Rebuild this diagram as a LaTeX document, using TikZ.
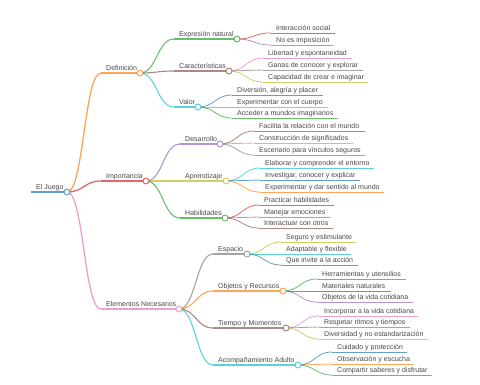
\documentclass[tikz,border=0pt]{standalone}
\usepackage{fontspec}
\setmainfont{Liberation Sans}
\usetikzlibrary{calc}
\definecolor{cBlue}{HTML}{1F77B4}
\definecolor{cOrange}{HTML}{FF7F0E}
\definecolor{cGreen}{HTML}{2CA02C}
\definecolor{cRed}{HTML}{D62728}
\definecolor{cPurple}{HTML}{9467BD}
\definecolor{cBrown}{HTML}{8C564B}
\definecolor{cPink}{HTML}{E377C2}
\definecolor{cGray}{HTML}{7F7F7F}
\definecolor{cOlive}{HTML}{BCBD22}
\definecolor{cCyan}{HTML}{17BECF}
\tikzset{
  lbl/.style={anchor=base west, inner sep=0pt, font=\fontsize{7}{8}\selectfont, text=black!72},
  circ/.style={circle, minimum size=6pt, inner sep=0pt, fill=white, line width=0.9pt, draw opacity=0.75},
  d0/.style={line width=2pt, draw opacity=0.7},
  d1/.style={line width=1.3pt, draw opacity=0.7},
  d2/.style={line width=1.1pt, draw opacity=0.7},
  d3/.style={line width=0.8pt, draw opacity=0.7},
}
\newcommand\mm[6]{%
  \node[lbl] (#1) at (#2,#3-2.5) {#6};
  \coordinate (#1-s) at (#2-5,#3);
  \coordinate (#1-e) at (#4,#3);
  \draw[#5] (#1-s) -- (#1-e);
}
\newcommand\mmlink[3]{%
  \draw[#3] let \p1=(#1-e), \p2=(#2-s) in (\p1) .. controls ({0.5*\x1+0.5*\x2},\y1) and ({0.5*\x1+0.5*\x2},\y2) .. (\p2);
}
\newcommand\mmcirc[2]{\node[circ,draw=#2] (#1-c) at (#1-e) {};}
\begin{document}
\begin{tikzpicture}[x=1pt,y=-1pt]
\useasboundingbox (0,0) rectangle (480,384);
% nodes
\mm{root}{36}{192}{67}{cBlue,d0}{El Juego}
\mm{def}{106}{73}{140}{cOrange,d1}{Definición}
\mm{exp}{179}{39}{237}{cGreen,d2}{Expresión natural}
\mm{int}{276}{33}{335}{cRed,d3}{Interacción social}
\mm{noe}{276}{45}{333}{cPurple,d3}{No es imposición}
\mm{car}{179}{71}{229}{cBrown,d2}{Características}
\mm{lib}{268}{58}{352}{cPink,d3}{Libertad y espontaneidad}
\mm{gan}{268}{70}{363}{cGray,d3}{Ganas de conocer y explorar}
\mm{cap}{268}{82}{368}{cOlive,d3}{Capacidad de crear e imaginar}
\mm{val}{179}{107}{198}{cCyan,d2}{Valor}
\mm{div}{237}{95}{323}{cBlue,d3}{Diversión, alegría y placer}
\mm{exc}{237}{107}{328}{cOrange,d3}{Experimentar con el cuerpo}
\mm{acc}{237}{118}{338}{cGreen,d3}{Acceder a mundos imaginarios}
\mm{imp}{106}{181}{146}{cRed,d1}{Importancia}
\mm{des}{185}{144}{220}{cPurple,d2}{Desarrollo}
\mm{fac}{259}{131}{365}{cBrown,d3}{Facilita la relación con el mundo}
\mm{con}{259}{143}{353}{cPink,d3}{Construcción de significados}
\mm{esc}{259}{155}{365}{cGray,d3}{Escenario para vínculos seguros}
\mm{apr}{185}{181}{226}{cOlive,d2}{Aprendizaje}
\mm{ela}{265}{168}{374}{cCyan,d3}{Elaborar y comprender el entorno}
\mm{inv}{265}{180}{360}{cBlue,d3}{Investigar, conocer y explicar}
\mm{exm}{265}{192}{384}{cOrange,d3}{Experimentar y dar sentido al mundo}
\mm{hab}{185}{218}{225}{cGreen,d2}{Habilidades}
\mm{pra}{264}{205}{334}{cRed,d3}{Practicar habilidades}
\mm{man}{264}{217}{330}{cPurple,d3}{Manejar emociones}
\mm{inr}{264}{228}{333}{cBrown,d3}{Interactuar con otros}
\mm{ele}{106}{309}{179}{cPink,d1}{Elementos Necesarios}
\mm{esp}{218}{254}{247}{cGray,d2}{Espacio}
\mm{seg}{286}{242}{356}{cOlive,d3}{Seguro y estimulante}
\mm{ada}{286}{254}{351}{cCyan,d3}{Adaptable y flexible}
\mm{que}{286}{265}{358}{cBlue,d3}{Que invite a la acción}
\mm{obj}{218}{291}{283}{cOrange,d2}{Objetos y Recursos}
\mm{her}{322}{279}{406}{cGreen,d3}{Herramientas y utensilios}
\mm{mat}{322}{291}{391}{cRed,d3}{Materiales naturales}
\mm{odv}{322}{302}{413}{cPurple,d3}{Objetos de la vida cotidiana}
\mm{tie}{218}{328}{286}{cBrown,d2}{Tiempo y Momentos}
\mm{inc}{324}{316}{418}{cPink,d3}{Incorporar a la vida cotidiana}
\mm{res}{324}{327}{410}{cGray,d3}{Respetar ritmos y tiempos}
\mm{dnd}{324}{339}{428}{cOlive,d3}{Diversidad y no estandarización}
\mm{aco}{218}{365}{298}{cCyan,d2}{Acompañamiento Adulto}
\mm{cui}{337}{352}{407}{cBlue,d3}{Cuidado y protección}
\mm{obs}{337}{364}{414}{cOrange,d3}{Observación y escucha}
\mm{com}{337}{375}{432}{cGreen,d3}{Compartir saberes y disfrutar}
% links
\mmlink{root}{def}{cOrange,d1}
\mmlink{root}{imp}{cRed,d1}
\mmlink{root}{ele}{cPink,d1}
\mmlink{def}{exp}{cGreen,d2}
\mmlink{def}{car}{cBrown,d2}
\mmlink{def}{val}{cCyan,d2}
\mmlink{exp}{int}{cRed,d3}
\mmlink{exp}{noe}{cPurple,d3}
\mmlink{car}{lib}{cPink,d3}
\mmlink{car}{gan}{cGray,d3}
\mmlink{car}{cap}{cOlive,d3}
\mmlink{val}{div}{cBlue,d3}
\mmlink{val}{exc}{cOrange,d3}
\mmlink{val}{acc}{cGreen,d3}
\mmlink{imp}{des}{cPurple,d2}
\mmlink{imp}{apr}{cOlive,d2}
\mmlink{imp}{hab}{cGreen,d2}
\mmlink{des}{fac}{cBrown,d3}
\mmlink{des}{con}{cPink,d3}
\mmlink{des}{esc}{cGray,d3}
\mmlink{apr}{ela}{cCyan,d3}
\mmlink{apr}{inv}{cBlue,d3}
\mmlink{apr}{exm}{cOrange,d3}
\mmlink{hab}{pra}{cRed,d3}
\mmlink{hab}{man}{cPurple,d3}
\mmlink{hab}{inr}{cBrown,d3}
\mmlink{ele}{esp}{cGray,d2}
\mmlink{ele}{obj}{cOrange,d2}
\mmlink{ele}{tie}{cBrown,d2}
\mmlink{ele}{aco}{cCyan,d2}
\mmlink{esp}{seg}{cOlive,d3}
\mmlink{esp}{ada}{cCyan,d3}
\mmlink{esp}{que}{cBlue,d3}
\mmlink{obj}{her}{cGreen,d3}
\mmlink{obj}{mat}{cRed,d3}
\mmlink{obj}{odv}{cPurple,d3}
\mmlink{tie}{inc}{cPink,d3}
\mmlink{tie}{res}{cGray,d3}
\mmlink{tie}{dnd}{cOlive,d3}
\mmlink{aco}{cui}{cBlue,d3}
\mmlink{aco}{obs}{cOrange,d3}
\mmlink{aco}{com}{cGreen,d3}
% circles
\mmcirc{root}{cBlue}
\mmcirc{def}{cOrange}
\mmcirc{imp}{cRed}
\mmcirc{ele}{cPink}
\mmcirc{exp}{cGreen}
\mmcirc{car}{cBrown}
\mmcirc{val}{cCyan}
\mmcirc{des}{cPurple}
\mmcirc{apr}{cOlive}
\mmcirc{hab}{cGreen}
\mmcirc{esp}{cGray}
\mmcirc{obj}{cOrange}
\mmcirc{tie}{cBrown}
\mmcirc{aco}{cCyan}
\end{tikzpicture}
\end{document}
